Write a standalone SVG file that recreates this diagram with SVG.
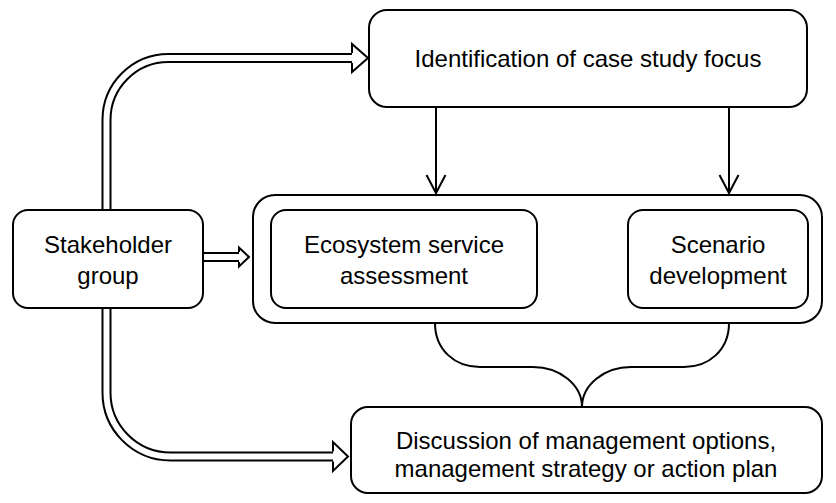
<svg xmlns="http://www.w3.org/2000/svg" width="836" height="503" viewBox="0 0 836 503">
<defs>
<style>
.box{fill:#fff;stroke:#000;stroke-width:2}
.t{font-family:"Liberation Sans",Arial,sans-serif;font-size:24px;fill:#000;text-anchor:middle}
.ln{fill:none;stroke:#000;stroke-width:2}
.dblo{fill:none;stroke:#000;stroke-width:10}
.dbli{fill:none;stroke:#fff;stroke-width:6}
.head{fill:none;stroke:#000;stroke-width:2;stroke-linejoin:miter}
</style>
<marker id="v" markerUnits="userSpaceOnUse" markerWidth="24" markerHeight="24" viewBox="-20 -12 24 24" refX="0" refY="0" orient="auto">
<path d="M-18,-9.5 L0,0 L-18,9.5" fill="none" stroke="#000" stroke-width="2"/>
</marker>
</defs>
<rect width="836" height="503" fill="#fff"/>
<g id="connectors">
<path class="dblo" d="M106.5,210 L106.5,120 A62,62 0 0 1 168.5,58 L353,58"/>
<path class="dbli" d="M106.5,212 L106.5,120 A62,62 0 0 1 168.5,58 L354,58"/>
<path class="dblo" d="M106.5,308 L106.5,392 A64,64 0 0 0 170.5,456.5 L334,456.5"/>
<path class="dbli" d="M106.5,306 L106.5,392 A64,64 0 0 0 170.5,456.5 L335,456.5"/>
<path class="dblo" d="M203,257 L240,257"/>
<path class="dbli" d="M201,257 L241,257"/>
<polygon points="352,53 352,44 368,58 352,72 352,63" fill="#fff"/>
<polyline class="head" points="352,53 352,44 368,58 352,72 352,63"/>
<polygon points="239,252 239,247.5 249,257 239,266.5 239,262" fill="#fff"/>
<polyline class="head" points="239,252 239,247.5 249,257 239,266.5 239,262"/>
<polygon points="333,451.5 333,442 348,456.5 333,471 333,461.5" fill="#fff"/>
<polyline class="head" points="333,451.5 333,442 348,456.5 333,471 333,461.5"/>
<path class="ln" d="M436,108 L436,193" marker-end="url(#v)"/>
<path class="ln" d="M729,108 L729,193" marker-end="url(#v)"/>
<path class="ln" d="M538,249 L626,249" marker-end="url(#v)"/>
<path class="ln" d="M627,273 L539,273" marker-end="url(#v)"/>
<path class="ln" d="M435,323 C435,350 455,367 480,367 L533,367 C560,367 582,385 582,407 C582,385 604,367 631,367 L684,367 C709,367 729,350 729,323"/>
</g>
<g id="identification">
<rect class="box" x="369" y="10" width="438" height="97" rx="18"/>
<text class="t" x="588" y="67">Identification of case study focus</text>
</g>
<g id="stakeholder">
<rect class="box" x="13" y="210" width="190" height="98" rx="15"/>
<text class="t" x="108" y="253">Stakeholder</text>
<text class="t" x="108" y="284">group</text>
</g>
<g id="container">
<rect class="box" x="253" y="195" width="569" height="128" rx="22"/>
</g>
<g id="ecosystem">
<rect class="box" x="271" y="210" width="266" height="98" rx="15"/>
<text class="t" x="404" y="253">Ecosystem service</text>
<text class="t" x="404" y="284">assessment</text>
</g>
<g id="scenario">
<rect class="box" x="628" y="210" width="180" height="98" rx="15"/>
<text class="t" x="718" y="253">Scenario</text>
<text class="t" x="718" y="284">development</text>
</g>
<g id="discussion">
<rect class="box" x="351" y="407" width="471" height="86" rx="17"/>
<text class="t" x="586" y="449">Discussion of management options,</text>
<text class="t" x="586" y="477">management strategy or action plan</text>
</g>
</svg>
